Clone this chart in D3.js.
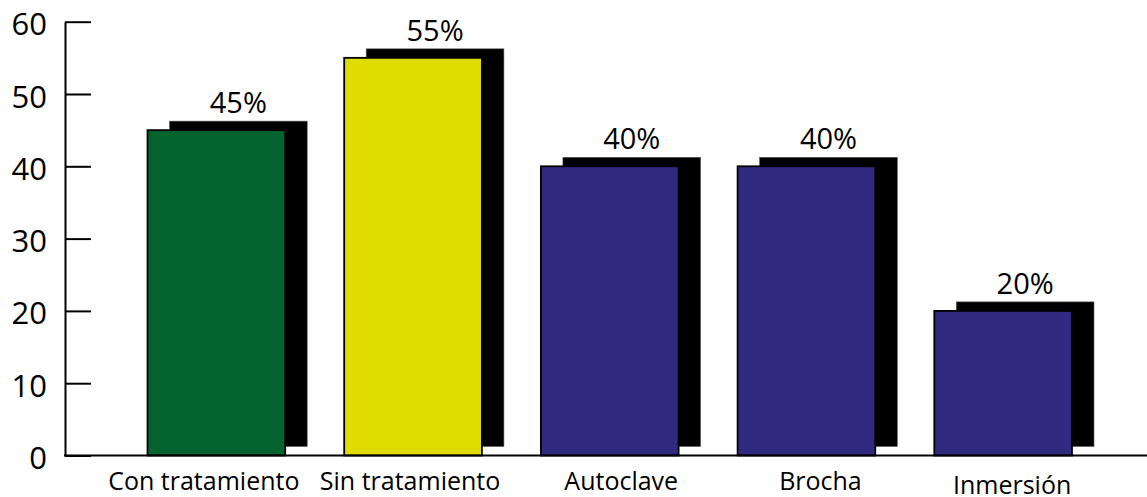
<!DOCTYPE html>
<html>
<head>
<meta charset="utf-8">
<script src="https://cdn.jsdelivr.net/npm/d3@7"></script>
<style>
  html, body { margin: 0; padding: 0; background: #fff; }
  svg { display: block; font-family: "Open Sans", "DejaVu Sans", sans-serif; }
</style>
</head>
<body>
<svg id="chart" width="1147" height="497"></svg>
<script>
// ---- data ----
const categories = ["Con tratamiento", "Sin tratamiento", "Autoclave", "Brocha", "Inmersión"];
const values = [45, 55, 40, 40, 20];
const valueLabels = ["45%", "55%", "40%", "40%", "20%"];
const barColors = ["#05632f", "#e0dc00", "#312a81", "#312a81", "#312a81"];
const yTicks = [0, 10, 20, 30, 40, 50, 60];

// ---- layout ----
const W = 1147, H = 497;
const axisX = 65, y0 = 455.5, yTop = 21.7;
const shadowDx = 22, shadowDy = -9;
// small per-label nudges to match the original typesetting
const labelDx = [-12.5, -3, 11.5, 14, 9];
const labelDy = [0, 0, 0, 0, 4];

const svg = d3.select("#chart");

const x = d3.scaleBand()
  .domain(categories)
  .range([88.5, 1131])
  .paddingInner(0.3)
  .paddingOuter(0.3);

const y = d3.scaleLinear().domain([0, 60]).range([y0, yTop]);

const data = categories.map((c, i) => ({ c, v: values[i], lab: valueLabels[i], col: barColors[i], i }));

// shadows
svg.append("g").selectAll("rect")
  .data(data).join("rect")
  .attr("x", d => x(d.c) + shadowDx)
  .attr("y", d => y(d.v) + shadowDy)
  .attr("width", x.bandwidth())
  .attr("height", d => y0 - y(d.v))
  .attr("fill", "#000")
  .attr("stroke", "#555")
  .attr("stroke-width", 0.6);

// bars
svg.append("g").selectAll("rect")
  .data(data).join("rect")
  .attr("x", d => x(d.c))
  .attr("y", d => y(d.v))
  .attr("width", x.bandwidth())
  .attr("height", d => y0 - y(d.v))
  .attr("fill", d => d.col)
  .attr("stroke", "#000")
  .attr("stroke-width", 1.8);

// value labels
svg.append("g").selectAll("text")
  .data(data).join("text")
  .attr("x", d => x(d.c) + x.bandwidth() / 2 + shadowDx)
  .attr("y", d => y(d.v) + shadowDy - 8)
  .attr("text-anchor", "middle")
  .attr("font-size", 29)
  .attr("fill", "#000")
  .text(d => d.lab);

// y axis
const yAxis = d3.axisLeft(y)
  .tickValues(yTicks)
  .tickSizeInner(-26)
  .tickSizeOuter(0)
  .tickPadding(18)
  .tickFormat(d3.format("d"));

const gy = svg.append("g")
  .attr("transform", `translate(${axisX},0)`)
  .call(yAxis);
gy.select(".domain").attr("stroke", "#000").attr("stroke-width", 2);
gy.selectAll(".tick line").attr("stroke", "#000").attr("stroke-width", 2);
gy.selectAll(".tick text")
  .attr("font-size", 31)
  .attr("dy", "0.42em")
  .attr("font-family", "\"Open Sans\", sans-serif")
  .attr("fill", "#000");

// x axis baseline
svg.append("line")
  .attr("x1", axisX - 1).attr("x2", W)
  .attr("y1", y0).attr("y2", y0)
  .attr("stroke", "#000").attr("stroke-width", 2.2);

// category labels
svg.append("g").selectAll("text")
  .data(data).join("text")
  .attr("x", d => x(d.c) + x.bandwidth() / 2 + labelDx[d.i])
  .attr("y", d => 490 + labelDy[d.i])
  .attr("text-anchor", "middle")
  .attr("font-size", 25)
  .attr("fill", "#000")
  .text(d => d.c);
</script>
</body>
</html>
